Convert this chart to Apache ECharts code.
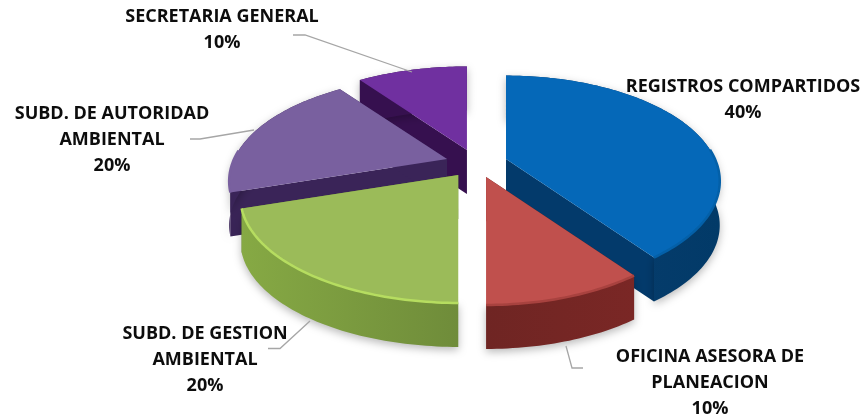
<!DOCTYPE html>
<html>
<head>
<meta charset="utf-8">
<title>Registros por dependencia</title>
<script src="https://cdn.jsdelivr.net/npm/echarts@6/dist/echarts.min.js"></script>
<style>
  html, body { margin: 0; padding: 0; background: #fff; }
  #chart { width: 864px; height: 417px; }
</style>
</head>
<body>
<div id="chart"></div>
<script>
// Share of records per office, clockwise from twelve o'clock
const categories = [
  'REGISTROS COMPARTIDOS',
  'OFICINA ASESORA DE\nPLANEACION',
  'SUBD. DE GESTION\nAMBIENTAL',
  'SUBD. DE AUTORIDAD\nAMBIENTAL',
  'SECRETARIA GENERAL'
];
const shares = [40, 10, 20, 20, 10];

// Painter's order: back slices first, so nearer ones cover their cut faces
const paintOrder = [4, 3, 0, 2, 1];

const topColors  = ['#0568b8', '#c0504d', '#9bbb59', '#79609f', '#7030a0'];
const rimColors  = ['#0460a8', '#a8423f', '#b6dd60', '#79609f', '#7030a0'];
const cutColors  = ['#033a6b', '#5e1c1a', '#6d8a36', '#3a2458', '#36104f'];
const wallStops  = [
  ['#0a3f70', '#023a68'],
  ['#6f2523', '#7a2725'],
  ['#86a944', '#6f8c3a'],
  ['#3a2458', '#3a2458'],
  ['#36104f', '#36104f']
];

// Label centres and leader polylines for each slice
const labelCentres = [[743, 87], [710, 357], [205, 334], [112, 114], [222, 16.5]];
const leaderPaths = [
  null,
  [[583, 368], [572, 368], [566, 346]],
  [[268, 348.5], [280, 348.5], [310, 321]],
  [[190, 139], [200, 139], [254, 130]],
  [[293, 35], [305, 35], [412, 72]]
];

// Perspective disc: radii, foreshortening, thickness and explosion distance
const disc = { cx: 476.5, cy: 163.5, rxRight: 209, rxLeft: 213, ry: 101, k: 0.21, depth: 44, ex: 31, ey: 14.3 };

const total = shares.reduce((a, b) => a + b, 0);

function project(apex, t) {
  const X = Math.sin(t), Z = Math.cos(t), s = 1 + disc.k * Z;
  const rx = X < 0 ? disc.rxLeft : disc.rxRight;
  return [apex[0] + rx * X / s, apex[1] - disc.ry * Z / s];
}

function below(points) {
  return points.map(p => [p[0], p[1] + disc.depth]);
}

function renderSlice(params, api) {
  const i = params.dataIndex;
  const value = api.value(1);
  const before = shares.slice(0, i).reduce((a, b) => a + b, 0);
  const t0 = before / total * Math.PI * 2;
  const t1 = (before + value) / total * Math.PI * 2;
  const mid = (t0 + t1) / 2;
  const apex = [
    disc.cx + disc.ex * Math.sin(mid),
    disc.cy - disc.ey * Math.cos(mid)
  ];

  const rim = [];
  const steps = Math.max(8, Math.round((t1 - t0) / 0.02));
  for (let n = 0; n <= steps; n++) {
    rim.push(project(apex, t0 + (t1 - t0) * n / steps));
  }
  const front = rim.filter((_, n) => Math.cos(t0 + (t1 - t0) * n / steps) < 0.1);

  const base = paintOrder.indexOf(i) * 10;
  const cutFace = (edge) => ({
    type: 'polygon',
    z2: base,
    shape: { points: [apex, edge, [edge[0], edge[1] + disc.depth], [apex[0], apex[1] + disc.depth]] },
    style: { fill: cutColors[i] }
  });

  const children = [
    cutFace(rim[0]),
    cutFace(rim[rim.length - 1]),
    {
      type: 'polygon',
      z2: base + 1,
      shape: { points: rim.concat(below(rim).reverse()) },
      style: {
        fill: new echarts.graphic.LinearGradient(0, 0, 1, 0, [
          { offset: 0, color: wallStops[i][0] },
          { offset: 1, color: wallStops[i][1] }
        ]),
        shadowBlur: 9,
        shadowOffsetY: 3,
        shadowColor: 'rgba(0,0,0,0.28)'
      }
    },
    {
      type: 'polygon',
      z2: base + 2,
      shape: { points: [apex].concat(rim) },
      style: { fill: topColors[i] }
    }
  ];

  if (front.length > 1) {
    children.push({
      type: 'polyline',
      z2: base + 3,
      shape: { points: front },
      style: { stroke: rimColors[i], lineWidth: 2.5, fill: null }
    });
  }

  if (leaderPaths[i]) {
    children.push({
      type: 'polyline',
      z2: 100,
      shape: { points: leaderPaths[i] },
      style: { stroke: '#a6a6a6', lineWidth: 1.3, fill: null }
    });
  }

  const pct = Math.round(value / total * 100) + '%';
  const lines = api.value(0).split('\n').concat(pct);
  lines.forEach((line, n) => {
    children.push({
      type: 'text',
      z2: 110,
      x: labelCentres[i][0],
      y: labelCentres[i][1] + n * 26,
      style: {
        text: line,
        align: 'center',
        verticalAlign: 'middle',
        fill: '#0d0d0d',
        font: 'bold 18px "Open Sans", Lato, sans-serif'
      }
    });
  });

  return { type: 'group', children };
}

const chart = echarts.init(document.getElementById('chart'), null, { renderer: 'canvas' });
chart.setOption({
  animation: false,
  backgroundColor: '#ffffff',
  series: [{
    type: 'custom',
    coordinateSystem: 'none',
    renderItem: renderSlice,
    data: categories.map((name, i) => [name, shares[i]]),
    encode: { itemName: 0, value: 1 }
  }]
});
</script>
</body>
</html>
